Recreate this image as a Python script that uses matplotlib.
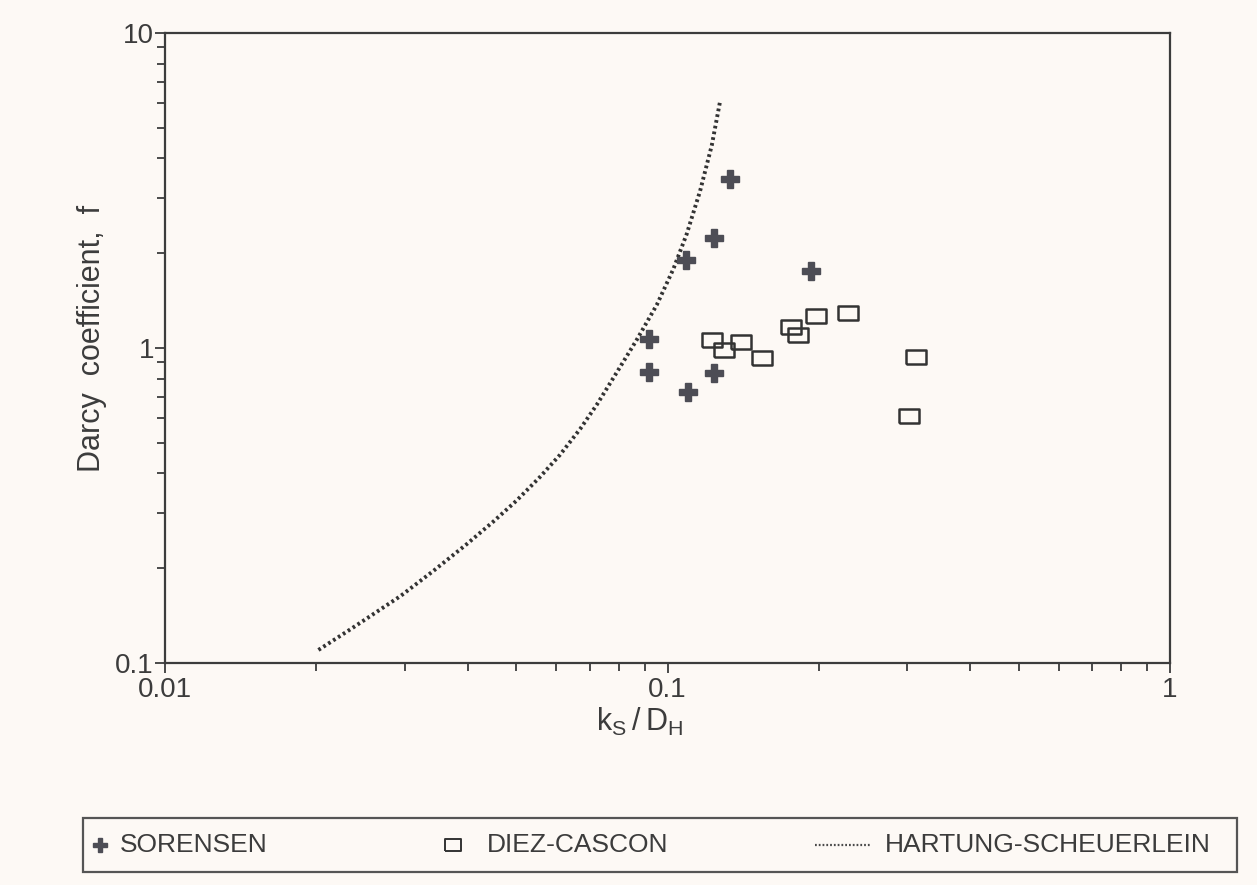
import matplotlib
matplotlib.use('Agg')
import matplotlib.pyplot as plt
from matplotlib.lines import Line2D
from matplotlib.patches import Rectangle
from matplotlib.ticker import LogLocator, NullFormatter, FixedFormatter, FixedLocator

plt.rcParams['font.family'] = ['Liberation Sans', 'DejaVu Sans']
plt.rcParams['mathtext.fontset'] = 'custom'
plt.rcParams['mathtext.rm'] = 'Liberation Sans'

# Sorensen measurements
sorensen_x = [0.133, 0.124, 0.109, 0.193, 0.092, 0.092, 0.124, 0.110]
sorensen_f = [3.43, 2.24, 1.90, 1.76, 1.07, 0.84, 0.835, 0.724]

# Diez-Cascon measurements
diez_x = [0.1225, 0.1295, 0.1398, 0.1544, 0.1761, 0.1821, 0.1975, 0.229, 0.3123, 0.3029]
diez_f = [1.062, 0.987, 1.043, 0.931, 1.17, 1.101, 1.262, 1.294, 0.939, 0.610]

# Hartung-Scheuerlein curve
hs_x = [0.0202, 0.0234, 0.0294, 0.0342, 0.0398, 0.0450, 0.0501, 0.0557, 0.0611,
        0.0670, 0.0723, 0.0792, 0.0868, 0.0952, 0.1027, 0.1092, 0.1161, 0.1225, 0.1272]
hs_f = [0.110, 0.128, 0.163, 0.196, 0.238, 0.281, 0.328, 0.389, 0.458,
        0.553, 0.66, 0.835, 1.06, 1.37, 1.78, 2.30, 3.15, 4.40, 6.05]

legend_labels = ['SORENSEN', 'DIEZ-CASCON', 'HARTUNG-SCHEUERLEIN']
x_ticks = [0.01, 0.1, 1]
x_ticklabels = ['0.01', '0.1', '1']
y_ticks = [0.1, 1, 10]
y_ticklabels = ['0.1', '1', '10']

bg = '#fdf9f5'
ink = '#3c3c3c'
W, H = 1257, 885

fig = plt.figure(figsize=(W / 100, H / 100), dpi=100, facecolor=bg)
ax = fig.add_axes([165 / W, 1 - 663 / H, 1005 / W, 630 / H], facecolor=bg)

rect_verts = [(-1.3, -1), (1.3, -1), (1.3, 1), (-1.3, 1), (-1.3, -1)]

ax.plot(hs_x, hs_f, color='#333333', lw=2.8, ls=(0, (0.7, 0.8)), zorder=2)
ax.plot(sorensen_x, sorensen_f, ls='none', marker='P', ms=13, color='#4d4d55',
        mec='#4d4d55', zorder=3)
ax.plot(diez_x, diez_f, ls='none', marker=rect_verts, ms=14, mfc='none',
        mec='#333333', mew=1.8, zorder=3)

ax.set_xscale('log')
ax.set_yscale('log')
ax.set_xlim(0.01, 1)
ax.set_ylim(0.1, 10)

ax.xaxis.set_major_locator(FixedLocator(x_ticks))
ax.xaxis.set_major_formatter(FixedFormatter(x_ticklabels))
ax.yaxis.set_major_locator(FixedLocator(y_ticks))
ax.yaxis.set_major_formatter(FixedFormatter(y_ticklabels))
for axis in (ax.xaxis, ax.yaxis):
    axis.set_minor_locator(LogLocator(base=10, subs=range(2, 10)))
    axis.set_minor_formatter(NullFormatter())

ax.tick_params(which='both', direction='out', color=ink, width=1.3,
               labelcolor=ink, labelsize=20, top=False, right=False)
ax.tick_params(which='major', length=7)
ax.tick_params(which='minor', length=6)
ax.tick_params(axis='x', pad=3)
ax.tick_params(axis='y', pad=1)
for s in ax.spines.values():
    s.set_color(ink)
    s.set_linewidth(1.6)

ax.set_xlabel(r'$\mathregular{k_S\,/\,D_H}$', fontsize=22, color=ink, va='center')
ax.xaxis.set_label_coords((640 - 165) / 1005, (663 - 722) / 630)
ax.set_ylabel('Darcy  coefficient,  f', fontsize=22, color=ink, va='center')
ax.yaxis.set_label_coords((92 - 165) / 1005, 1 - (338 - 33) / 630)

# legend box under the plot
fig.add_artist(Rectangle((83 / W, 1 - 872 / H), 1154 / W, 54 / H,
                         transform=fig.transFigure, fill=False,
                         edgecolor='#555555', lw=1.6))
ly = 1 - 845 / H
fig.add_artist(Line2D([100 / W], [ly], marker='P', ms=10, color='#4d4d55',
                      ls='none', transform=fig.transFigure))
fig.add_artist(Line2D([453 / W], [ly], marker=rect_verts, ms=11, mfc='none',
                      mec='#333333', mew=1.4, ls='none', transform=fig.transFigure))
fig.add_artist(Line2D([815 / W, 870 / W], [ly, ly], color='#4a4a4a', lw=1.6,
                      ls=(0, (0.8, 0.9)), transform=fig.transFigure))
for xpix, lab in zip([120, 487, 885], legend_labels):
    fig.text(xpix / W, ly, lab, fontsize=19, color=ink, ha='left', va='center')

fig.savefig('out.png', dpi=100, facecolor=bg)
